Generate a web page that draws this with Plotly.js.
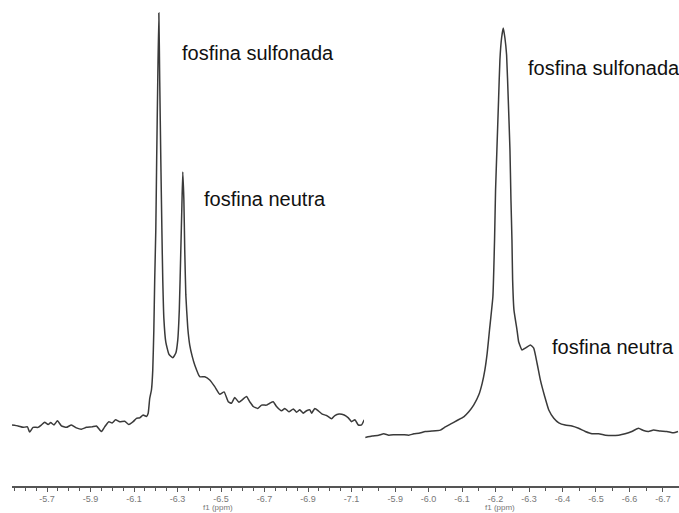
<!DOCTYPE html>
<html>
<head>
<meta charset="utf-8">
<script src="https://cdn.plot.ly/plotly-3.0.1.min.js"></script>
<style>
  html, body { margin: 0; padding: 0; background: #fff; }
  #chart { width: 679px; height: 513px; }
</style>
</head>
<body>
<div id="chart"></div>
<script>
// ---- Left spectrum (chemical shift in ppm, relative intensity) ----
const leftPpm = [
  -5.539, -5.567, -5.590, -5.610, -5.620, -5.636, -5.659, -5.674, -5.689, -5.705,
  -5.717, -5.732, -5.748, -5.766, -5.789, -5.812, -5.835, -5.858, -5.881, -5.907,
  -5.927, -5.950, -5.965, -5.984, -5.999, -6.015, -6.034, -6.057, -6.076, -6.096,
  -6.111, -6.126, -6.142, -6.157, -6.165, -6.172, -6.180, -6.186, -6.191, -6.195,
  -6.200, -6.204, -6.209, -6.214, -6.218, -6.223, -6.228, -6.232, -6.237, -6.246,
  -6.260, -6.278, -6.292, -6.301, -6.308, -6.315, -6.320, -6.324, -6.329, -6.333,
  -6.338, -6.347, -6.356, -6.368, -6.379, -6.402, -6.425, -6.448, -6.471, -6.494,
  -6.514, -6.533, -6.548, -6.563, -6.582, -6.597, -6.617, -6.632, -6.648, -6.668,
  -6.686, -6.709, -6.724, -6.740, -6.755, -6.778, -6.793, -6.812, -6.832, -6.847,
  -6.862, -6.878, -6.893, -6.908, -6.916, -6.931, -6.947, -6.965, -6.985, -7.008,
  -7.023, -7.042, -7.066, -7.085, -7.100, -7.115, -7.131, -7.146, -7.158
];
const leftInt = [
  12.9, 12.7, 12.4, 12.5, 11.4, 12.4, 12.4, 12.9, 13.5, 13.0,
  13.4, 12.9, 13.8, 12.7, 12.4, 12.9, 12.3, 12.0, 12.4, 12.5,
  12.7, 11.5, 12.5, 13.6, 13.3, 14.0, 13.6, 13.7, 13.0, 13.6,
  14.3, 14.4, 15.0, 14.7, 15.4, 18.5, 20.3, 24.5, 33.0, 43.6,
  54.1, 68.9, 85.8, 100.0, 85.8, 68.9, 54.1, 43.6, 35.5, 30.4,
  27.9, 27.1, 28.1, 30.9, 37.2, 49.9, 59.4, 66.4, 60.5, 49.9,
  40.4, 33.4, 29.8, 27.3, 25.6, 23.1, 23.1, 22.4, 21.0, 19.4,
  19.9, 17.8, 17.5, 18.7, 17.7, 18.2, 18.9, 17.8, 16.8, 16.4,
  17.1, 17.1, 17.5, 17.8, 16.8, 15.9, 16.4, 15.7, 16.3, 15.6,
  16.1, 15.4, 15.9, 16.1, 15.4, 16.4, 15.9, 15.2, 14.9, 14.2,
  14.9, 15.2, 15.0, 14.4, 13.6, 14.0, 12.9, 12.9, 14.0
];

// ---- Right spectrum ----
const rightPpm = [
  -5.811, -5.831, -5.851, -5.866, -5.881, -5.901, -5.921, -5.941, -5.956, -5.971,
  -5.990, -6.010, -6.035, -6.050, -6.065, -6.085, -6.105, -6.120, -6.135, -6.150,
  -6.160, -6.168, -6.175, -6.182, -6.192, -6.197, -6.200, -6.204, -6.209, -6.213,
  -6.218, -6.223, -6.228, -6.233, -6.238, -6.243, -6.246, -6.249, -6.251, -6.255,
  -6.264, -6.269, -6.279, -6.289, -6.304, -6.314, -6.324, -6.334, -6.347, -6.359,
  -6.374, -6.389, -6.408, -6.428, -6.448, -6.468, -6.488, -6.508, -6.528, -6.547,
  -6.568, -6.587, -6.607, -6.627, -6.642, -6.657, -6.672, -6.692, -6.712, -6.732,
  -6.745
];
const rightInt = [
  10.6, 10.9, 11.1, 11.4, 11.1, 11.2, 11.2, 11.1, 11.4, 11.5,
  11.9, 12.0, 12.2, 12.9, 13.5, 14.3, 15.1, 16.2, 17.7, 19.9,
  22.4, 25.3, 29.0, 34.1, 41.3, 53.7, 64.6, 73.4, 84.3, 93.0,
  97.8, 100.0, 97.8, 94.1, 84.3, 73.4, 62.4, 53.7, 45.0, 38.4,
  34.1, 31.5, 29.7, 30.1, 30.8, 30.1, 26.8, 23.1, 19.5, 16.6,
  14.8, 13.8, 13.3, 13.1, 12.6, 11.9, 11.4, 11.4, 11.1, 11.0,
  11.1, 11.4, 11.9, 12.6, 12.1, 11.9, 12.2, 12.0, 11.9, 11.6,
  11.9
];

// ---- Tick labels ----
const leftTickVals = [-5.7, -5.9, -6.1, -6.3, -6.5, -6.7, -6.9, -7.1];
const leftTickText = ['-5.7', '-5.9', '-6.1', '-6.3', '-6.5', '-6.7', '-6.9', '-7.1'];
const rightTickVals = [-5.9, -6.0, -6.1, -6.2, -6.3, -6.4, -6.5, -6.6, -6.7];
const rightTickText = ['-5.9', '-6.0', '-6.1', '-6.2', '-6.3', '-6.4', '-6.5', '-6.6', '-6.7'];
const axisTitle = 'f1 (ppm)';

// ---- Peak labels ----
const labelText = ['fosfina sulfonada', 'fosfina neutra', 'fosfina sulfonada', 'fosfina neutra'];
const labelPpm = [-6.310, -6.412, -6.291, -6.363];
const labelInt = [91.5, 60.7, 91.3, 30.3];
const labelPanel = [1, 1, 2, 2];

const W = 679;
const lineColor = '#3a3a3a';
const axColor = '#555';
const tickFont = { family: 'Liberation Sans, Arial, sans-serif', size: 9, color: '#777' };

const traces = [
  { x: leftPpm, y: leftInt, xaxis: 'x', yaxis: 'y', type: 'scatter', mode: 'lines',
    line: { color: lineColor, width: 1.5, shape: 'spline', smoothing: 0.4 }, hoverinfo: 'skip' },
  { x: rightPpm, y: rightInt, xaxis: 'x2', yaxis: 'y2', type: 'scatter', mode: 'lines',
    line: { color: lineColor, width: 1.5, shape: 'spline', smoothing: 0.4 }, hoverinfo: 'skip' }
];

function xAxis(domain, range, vals, text, minor0) {
  return {
    domain: domain, range: range,
    tickmode: 'array', tickvals: vals, ticktext: text,
    ticks: 'outside', ticklen: 4, tickwidth: 1, tickcolor: axColor,
    minor: { tickmode: 'linear', tick0: minor0, dtick: 0.05, ticks: 'outside', ticklen: 3, tickwidth: 1, tickcolor: axColor },
    showline: true, linecolor: axColor, linewidth: 1.5,
    showgrid: false, zeroline: false, tickfont: tickFont,
    automargin: false, fixedrange: true
  };
}

const xa = xAxis([12 / W, 364 / W], [-5.539, -7.157], leftTickVals, leftTickText, -5.7);
xa.anchor = 'y';
const xa2 = xAxis([364 / W, 1], [-5.807, -6.748], rightTickVals, rightTickText, -5.8);
xa2.anchor = 'y2';

const annotations = labelText.map((t, i) => ({
  text: t,
  x: labelPpm[i], y: labelInt[i],
  xref: labelPanel[i] === 1 ? 'x' : 'x2',
  yref: labelPanel[i] === 1 ? 'y' : 'y2',
  xanchor: 'left', yanchor: 'middle', showarrow: false,
  font: { family: 'Liberation Sans, Arial, sans-serif', size: 20, color: '#111' }
}));
// axis titles under each panel
[[218 / W, axisTitle], [500 / W, axisTitle]].forEach(([px, t]) => {
  annotations.push({
    text: t, x: px, y: -21.5 / 486, xref: 'paper', yref: 'paper',
    xanchor: 'center', yanchor: 'middle', showarrow: false, borderpad: 0,
    font: { family: 'Liberation Sans, Arial, sans-serif', size: 8, color: '#777' }
  });
});

const layout = {
  width: W, height: 513,
  margin: { l: 0, r: 0, t: 0, b: 27, pad: 0 },
  paper_bgcolor: '#fff', plot_bgcolor: '#fff',
  showlegend: false,
  xaxis: xa,
  yaxis: { domain: [0, 1], range: [0, 102.75], visible: false, fixedrange: true, anchor: 'x' },
  xaxis2: xa2,
  yaxis2: { domain: [0, 1], range: [0, 106.1], visible: false, fixedrange: true, anchor: 'x2' },
  annotations: annotations
};

Plotly.newPlot('chart', traces, layout, { displayModeBar: false, staticPlot: true });
</script>
</body>
</html>
